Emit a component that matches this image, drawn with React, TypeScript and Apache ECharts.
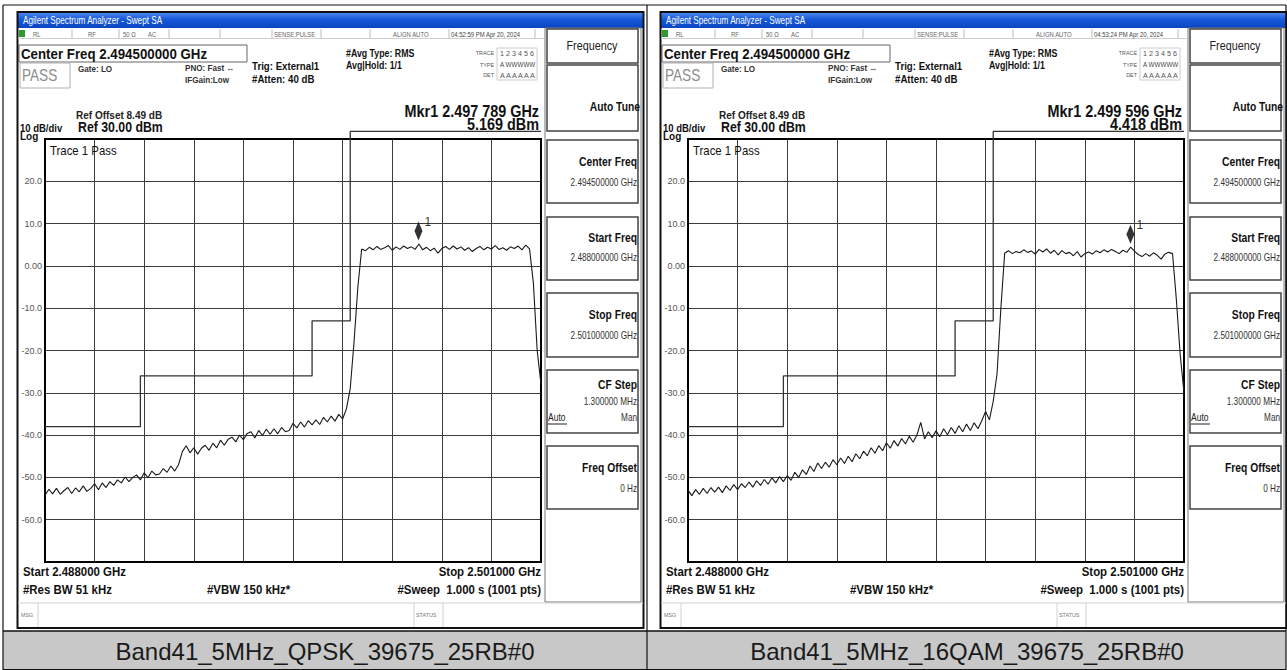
import React, { useEffect, useRef } from 'react';
import * as echarts from 'echarts';

const FONT = "'Liberation Sans', Arial, sans-serif";

// Sweep: offset from start frequency (2.488000 GHz), in MHz
const sweepStepMHz = 0.1;
const spanMHz = 13;
const divisionMHz = 1.3;
const refLevel = 30;
const bottomLevel = -70;
const dbPerDiv = 10;

const qpskTrace = [
  -54.3, -52.8, -53.9, -52.6, -54.0, -53.1, -52.4, -53.8, -52.5, -53.4,
  -52.0, -53.3, -52.6, -51.5, -52.9, -51.3, -52.4, -51.0, -51.9, -50.6,
  -51.3, -49.9, -51.0, -50.0, -49.4, -50.6, -48.9, -50.1, -48.5, -49.4,
  -49.2, -47.9, -48.8, -47.3, -48.5, -47.0, -43.9, -42.5, -44.2, -43.0,
  -44.5, -43.1, -42.4, -43.6, -41.9, -43.0, -41.2, -42.4, -41.0, -40.5,
  -41.6, -40.0, -41.1, -39.6, -39.2, -40.7, -38.9, -40.1, -38.6, -39.8,
  -38.5, -39.7, -38.2, -39.2, -38.9, -37.2, -38.3, -36.9, -38.1, -36.6,
  -37.6, -36.4, -37.5, -35.8, -36.9, -35.5, -36.7, -35.1, -36.2, -33.8,
  -29, -18, -5, 4.0, 3.6, 4.4, 3.8, 4.6, 3.9, 4.3,
  4.8, 3.7, 4.5, 3.9, 4.7, 4.1, 4.5, 3.9, 5.169, 3.8,
  4.4, 3.6, 4.2, 3.0, 4.1, 4.6, 3.9, 4.7, 4.0, 4.5,
  3.7, 4.3, 3.4, 4.1, 4.6, 3.8, 4.4, 4.0, 4.8, 3.9,
  4.3, 3.7, 4.5, 4.1, 4.7, 3.8, 4.9, 4.0, -4, -20,
  -28,
];

const qam16Trace = [
  -53.0, -54.3, -52.9, -54.0, -52.6, -53.8, -52.4, -53.5, -52.3, -53.6,
  -52.0, -53.1, -51.7, -52.9, -51.5, -52.4, -51.1, -52.3, -50.8, -51.9,
  -50.5, -51.6, -50.1, -51.3, -49.8, -51.0, -49.6, -50.7, -48.8, -50.0,
  -48.2, -49.3, -47.3, -48.6, -46.6, -47.9, -46.4, -47.6, -45.8, -47.0,
  -45.4, -46.7, -45.0, -46.3, -44.4, -45.6, -43.8, -44.9, -43.0, -44.3,
  -42.5, -43.7, -41.8, -43.1, -41.3, -42.6, -40.8, -42.1, -40.3, -41.7,
  -40.0, -37.0, -40.9, -39.2, -40.6, -39.0, -40.4, -38.5, -39.9, -38.2,
  -39.6, -37.8, -39.2, -37.4, -38.9, -37.1, -38.5, -36.6, -34.4, -36.4,
  -32, -25.5, -10, 3.0, 3.6, 2.9, 3.4, 3.1, 3.8, 3.2,
  3.5, 2.8, 3.9, 3.3, 4.0, 3.0, 3.7, 2.6, 3.6, 2.9,
  3.2, 2.4, 3.4, 2.1, 2.9, 3.3, 2.8, 3.6, 3.1, 3.8,
  3.3, 3.9, 3.4, 2.9, 3.7, 3.2, 4.418, 3.5, 2.7, 2.2,
  2.9, 2.3, 3.1, 2.5, 1.6, 2.8, 3.2, 2.9, -8, -21,
  -30,
];

const limitFreqs = [0, 2.5, 2.5, 7.0, 7.0, 8.0, 8.0, 13.0];
const limitLevels = [-38, -38, -26, -26, -13, -13, 31.8, 31.8];

const markerFreqs = [9.789, 11.596];
const markerLevels = [5.169, 4.418];
const markerFreqTexts = ['2.497 789 GHz', '2.499 596 GHz'];
const markerLevelTexts = ['5.169 dBm', '4.418 dBm'];
const timestamps = ['04:52:59 PM Apr 20, 2024', '04:53:24 PM Apr 20, 2024'];
const captions = ['Band41_5MHz_QPSK_39675_25RB#0', 'Band41_5MHz_16QAM_39675_25RB#0'];
const traces = [qpskTrace, qam16Trace];

const panelOffsets = [0, 643];
const GRID_LEFT = 45;
const GRID_TOP = 139;
const GRID_W = 496;
const GRID_H = 423;

type TOpts = { bold?: boolean; color?: string; align?: string; sx?: number; z?: number };

function T(x: number, y: number, text: string, size: number, o: TOpts = {}) {
  return {
    type: 'text',
    x,
    y,
    scaleX: o.sx ?? 1,
    silent: true,
    z: o.z ?? 20,
    style: {
      text,
      fontSize: size,
      fontFamily: FONT,
      fontWeight: o.bold ? 'bold' : 'normal',
      fill: o.color ?? '#111',
      align: o.align ?? 'left',
      textAlign: o.align ?? 'left',
      verticalAlign: 'middle',
      textVerticalAlign: 'middle',
    },
  };
}

function R(x: number, y: number, w: number, h: number, stroke: string, lw = 1, fill: any = 'none', z = 5) {
  return { type: 'rect', silent: true, z, shape: { x, y, width: w, height: h }, style: { stroke, lineWidth: lw, fill } };
}

function L(x1: number, y1: number, x2: number, y2: number, stroke: string, lw = 1, z = 6) {
  return { type: 'line', silent: true, z, shape: { x1, y1, x2, y2 }, style: { stroke, lineWidth: lw } };
}

function panelGraphics(i: number) {
  const d = panelOffsets[i];
  const g: any[] = [];
  // title bar
  g.push({
    type: 'rect', silent: true, z: 4,
    shape: { x: 18 + d, y: 13, width: 625, height: 15 },
    style: {
      fill: {
        type: 'linear', x: 0, y: 0, x2: 0, y2: 1,
        colorStops: [
          { offset: 0, color: '#4a86ee' },
          { offset: 0.45, color: '#1558d8' },
          { offset: 1, color: '#0a45c2' },
        ],
      },
    },
  });
  g.push(T(23 + d, 20.5, 'Agilent Spectrum Analyzer - Swept SA', 10, { color: '#ffffff', sx: 0.82 }));

  // status row
  g.push(R(19 + d, 30, 6, 7, 'none', 0, '#2f9a2f'));
  [72, 119, 169, 220, 272, 321, 370, 449, 535].forEach((x) => g.push(L(x + d, 29, x + d, 38, '#bdbdbd', 1)));
  g.push(L(18 + d, 38.5, 544 + d, 38.5, '#cfcfcf', 1));
  const st = { color: '#666', sx: 0.85 };
  g.push(T(33 + d, 34, 'RL', 7, st));
  g.push(T(88 + d, 34, 'RF', 7, st));
  g.push(T(123 + d, 34, '50 Ω', 7, st));
  g.push(T(148 + d, 34, 'AC', 7, st));
  g.push(T(274 + d, 34, 'SENSE:PULSE', 7, st));
  g.push(T(393 + d, 34, 'ALIGN AUTO', 7, st));
  g.push(T(451 + d, 34, timestamps[i], 7, { color: '#444', sx: 0.85 }));

  // center freq box
  g.push(R(19 + d, 45, 228, 17, '#666', 1));
  g.push(T(21 + d, 54, 'Center Freq 2.494500000 GHz', 14, { bold: true, sx: 0.95 }));
  // PASS box
  g.push(R(20 + d, 63, 50, 25, '#b0b0b0', 1));
  g.push(T(22 + d, 75.5, 'PASS', 16, { color: '#8c8c8c', sx: 0.85 }));
  g.push(T(78 + d, 69, 'Gate: LO', 9, { bold: true, sx: 0.9, color: '#333' }));
  g.push(T(185 + d, 68, 'PNO: Fast ↔', 9, { bold: true, sx: 0.9, color: '#333' }));
  g.push(T(185 + d, 80, 'IFGain:Low', 9, { bold: true, sx: 0.9, color: '#333' }));
  g.push(T(252 + d, 66, 'Trig: External1', 11, { bold: true, sx: 0.88 }));
  g.push(T(252 + d, 79, '#Atten: 40 dB', 11, { bold: true, sx: 0.88 }));
  g.push(T(346 + d, 53, '#Avg Type: RMS', 10, { bold: true, sx: 0.88 }));
  g.push(T(346 + d, 65, 'Avg|Hold: 1/1', 10, { bold: true, sx: 0.88 }));
  g.push(R(497 + d, 48, 40, 32, '#cccccc', 1));
  g.push(T(494 + d, 53, 'TRACE', 6, { color: '#555', align: 'right', sx: 0.9 }));
  g.push(T(494 + d, 64.5, 'TYPE', 6, { color: '#555', align: 'right', sx: 0.9 }));
  g.push(T(494 + d, 75, 'DET', 6, { color: '#555', align: 'right', sx: 0.9 }));
  g.push(T(500 + d, 53, '1 2 3 4 5 6', 8, { color: '#555', sx: 0.9 }));
  g.push(T(500 + d, 64.5, 'A WWWWW', 7, { color: '#444', sx: 0.9 }));
  g.push(T(500 + d, 75, 'A A A A A A', 8, { color: '#555', sx: 0.9 }));

  // marker readout
  g.push(T(539 + d, 111.5, 'Mkr1 ' + markerFreqTexts[i], 16, { bold: true, align: 'right', sx: 0.9 }));
  g.push(T(539 + d, 124.5, markerLevelTexts[i], 16, { bold: true, align: 'right', sx: 0.9 }));
  g.push(T(76 + d, 115, 'Ref Offset 8.49 dB', 10, { bold: true, color: '#222' }));
  g.push(T(20 + d, 128, '10 dB/div', 10, { bold: true, sx: 0.95 }));
  g.push(T(78 + d, 127, 'Ref 30.00 dBm', 14, { bold: true, sx: 0.88 }));
  g.push(T(20 + d, 136.5, 'Log', 10, { bold: true }));

  // plot annotation
  g.push(T(50 + d, 150, 'Trace 1 Pass', 12, { sx: 0.95, z: 30 }));

  // bottom annotations
  const bt = { bold: true, sx: 0.88 };
  g.push(T(23 + d, 572, 'Start 2.488000 GHz', 13, bt));
  g.push(T(23 + d, 590, '#Res BW 51 kHz', 13, bt));
  g.push(T(207 + d, 590, '#VBW 150 kHz*', 13, bt));
  g.push(T(541 + d, 572, 'Stop 2.501000 GHz', 13, { ...bt, align: 'right' }));
  g.push(T(541 + d, 590, '#Sweep  1.000 s (1001 pts)', 13, { ...bt, align: 'right' }));

  // msg / status bar
  g.push(L(18 + d, 603, 643 + d, 603, '#d0d0d0', 1));
  g.push(L(38 + d, 603, 38 + d, 627, '#d0d0d0', 1));
  g.push(L(414 + d, 603, 414 + d, 627, '#d0d0d0', 1));
  g.push(L(443 + d, 603, 443 + d, 627, '#d0d0d0', 1));
  g.push(T(21 + d, 615, 'MSG', 6, { color: '#777', sx: 0.9 }));
  g.push(T(416 + d, 615, 'STATUS', 6, { color: '#777', sx: 0.9 }));

  // softkey panel
  g.push(R(545 + d, 28, 96, 574, '#777', 1));
  const keys: [number, number][] = [[29, 63], [65, 131], [140, 203], [217, 280], [293, 357], [370, 433], [446, 509]];
  keys.forEach(([a, b]) => g.push(R(547 + d, a, 91, b - a, '#444', 1.5)));
  g.push(T(592 + d, 46, 'Frequency', 12, { align: 'center', sx: 0.9, color: '#222' }));
  const kt = { bold: true, align: 'right', sx: 0.86 };
  const kv = { align: 'right', sx: 0.82, color: '#333' };
  g.push(T(640 + d, 107, 'Auto Tune', 12, kt));
  g.push(T(637 + d, 162, 'Center Freq', 12, kt));
  g.push(T(637 + d, 183, '2.494500000 GHz', 10, kv));
  g.push(T(637 + d, 238, 'Start Freq', 12, kt));
  g.push(T(637 + d, 258, '2.488000000 GHz', 10, kv));
  g.push(T(637 + d, 315, 'Stop Freq', 12, kt));
  g.push(T(637 + d, 336, '2.501000000 GHz', 10, kv));
  g.push(T(637 + d, 385, 'CF Step', 12, kt));
  g.push(T(637 + d, 402, '1.300000 MHz', 10, kv));
  g.push(T(548 + d, 418, 'Auto', 10, { color: '#222', sx: 0.85 }));
  g.push(L(548 + d, 424, 567 + d, 424, '#222', 1));
  g.push(T(637 + d, 418, 'Man', 10, kv));
  g.push(T(637 + d, 468, 'Freq Offset', 12, kt));
  g.push(T(637 + d, 489, '0 Hz', 10, kv));

  // screenshot frame
  g.push(R(17.5 + d, 12, 626, 616, '#111', 2));
  return g;
}

function tableGraphics() {
  const g: any[] = [];
  g.push(R(3, 631, 1283, 39, 'none', 0, '#c8c8c8', 1));
  g.push(L(3, 5, 1286, 5, '#111', 1.2));
  g.push(L(3, 5, 3, 670, '#111', 1.2));
  g.push(L(647, 5, 647, 670, '#111', 1.2));
  g.push(L(1286, 5, 1286, 670, '#111', 1.2));
  g.push(L(3, 631, 1286, 631, '#111', 1.5));
  g.push(L(3, 669.5, 1286, 669.5, '#111', 1));
  g.push(T(325, 651, captions[0], 24, { align: 'center', color: '#1a1a1a' }));
  g.push(T(967, 651, captions[1], 24, { align: 'center', color: '#1a1a1a' }));
  return g;
}

function yLabel(v: number) {
  if (v === refLevel || v === bottomLevel) return '';
  if (v === 0) return '0.00';
  return v.toFixed(1);
}

function buildOption() {
  const idx = [0, 1];
  return {
    animation: false,
    backgroundColor: '#ffffff',
    grid: idx.map((i) => ({
      left: GRID_LEFT + panelOffsets[i],
      top: GRID_TOP,
      width: GRID_W,
      height: GRID_H,
      show: true,
      borderColor: '#000',
      borderWidth: 2,
      backgroundColor: 'transparent',
      z: 2,
    })),
    xAxis: idx.map((i) => ({
      type: 'value',
      gridIndex: i,
      min: 0,
      max: spanMHz,
      interval: divisionMHz,
      axisLabel: { show: false },
      axisTick: { show: false },
      axisLine: { show: false },
      splitLine: { show: true, lineStyle: { color: '#3c3c3c', width: 1 } },
    })),
    yAxis: idx.map((i) => ({
      type: 'value',
      gridIndex: i,
      min: bottomLevel,
      max: refLevel,
      interval: dbPerDiv,
      axisLabel: { show: true, formatter: yLabel, fontSize: 9, color: '#555', margin: 3, fontFamily: FONT },
      axisTick: { show: false },
      axisLine: { show: false },
      splitLine: { show: true, lineStyle: { color: '#3c3c3c', width: 1 } },
    })),
    series: idx.flatMap((i) => [
      {
        type: 'line',
        xAxisIndex: i,
        yAxisIndex: i,
        data: limitFreqs.map((f, k) => [f, limitLevels[k]]),
        symbol: 'none',
        clip: false,
        silent: true,
        lineStyle: { color: '#333', width: 1.3 },
        z: 3,
      },
      {
        type: 'line',
        xAxisIndex: i,
        yAxisIndex: i,
        data: traces[i].map((v, k) => [k * sweepStepMHz, v]),
        symbol: 'none',
        silent: true,
        lineStyle: { color: '#1a1a1a', width: 1.1 },
        z: 4,
      },
      {
        type: 'scatter',
        xAxisIndex: i,
        yAxisIndex: i,
        data: [[markerFreqs[i], markerLevels[i]]],
        symbol: 'diamond',
        symbolSize: [8, 19],
        symbolOffset: [0, -13],
        silent: true,
        itemStyle: { color: '#000' },
        label: {
          show: true,
          formatter: '1',
          position: 'right',
          distance: 2,
          offset: [0, -9],
          fontSize: 12,
          color: '#000000',
          fontFamily: FONT,
        },
        z: 5,
      },
    ]),
    graphic: { elements: [...tableGraphics(), ...panelGraphics(0), ...panelGraphics(1)] },
  };
}

export default function App() {
  const ref = useRef<HTMLDivElement>(null);
  useEffect(() => {
    if (!ref.current) return;
    const chart = echarts.init(ref.current, null, { renderer: 'svg' });
    chart.setOption(buildOption() as any);
    return () => chart.dispose();
  }, []);
  return (
    <div
      ref={ref}
      style={{ position: 'fixed', left: 0, top: 0, width: 1287, height: 670, background: '#ffffff' }}
    />
  );
}
